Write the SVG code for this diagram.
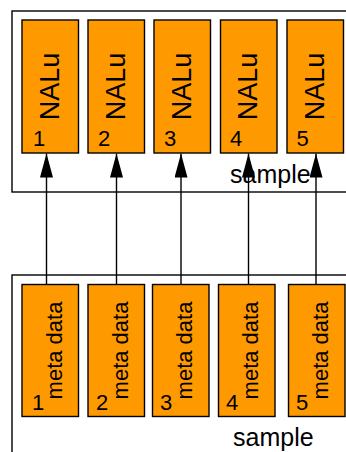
<svg xmlns="http://www.w3.org/2000/svg" width="346" height="452" viewBox="0 0 346 452">
<defs>
<style>
.cont{fill:none;stroke:#000;stroke-width:1.4}
.box{fill:#FF9900;stroke:#000;stroke-width:1.4}
.lbl{font-family:"Liberation Sans",Arial,sans-serif;fill:#000}
.nalu{font-size:27px}
.meta{font-size:22px}
.num{font-size:22px}
.cap{font-size:25px}
.conn{stroke:#000;stroke-width:1.4;fill:none}
</style>
<marker id="ah" viewBox="0 0 24 13" refX="24" refY="6.5" markerWidth="24" markerHeight="13" markerUnits="userSpaceOnUse" orient="auto">
<path d="M0,0 L24,6.5 L0,13 Z" fill="#000"/>
</marker>
</defs>
<rect width="346" height="452" fill="#fff"/>
<g id="top-sample">
<rect class="cont" x="12" y="11" width="360" height="181"/>
<text class="lbl cap" x="230" y="183">sample</text>
</g>
<g id="bottom-sample">
<rect class="cont" x="12" y="275" width="360" height="200"/>
<text class="lbl cap" x="233" y="446">sample</text>
</g>
<g id="nalu1"><rect class="box" x="22" y="20" width="56.5" height="133"/><text class="lbl nalu" transform="translate(58.5,86.5) rotate(-90)" text-anchor="middle">NALu</text><text class="lbl num" x="33" y="146">1</text></g>
<g id="nalu2"><rect class="box" x="88" y="20" width="56.5" height="133"/><text class="lbl nalu" transform="translate(124.5,86.5) rotate(-90)" text-anchor="middle">NALu</text><text class="lbl num" x="98" y="146">2</text></g>
<g id="nalu3"><rect class="box" x="154" y="20" width="56.5" height="133"/><text class="lbl nalu" transform="translate(190.5,86.5) rotate(-90)" text-anchor="middle">NALu</text><text class="lbl num" x="164" y="146">3</text></g>
<g id="nalu4"><rect class="box" x="220.5" y="20" width="56.5" height="133"/><text class="lbl nalu" transform="translate(257,86.5) rotate(-90)" text-anchor="middle">NALu</text><text class="lbl num" x="230" y="146">4</text></g>
<g id="nalu5"><rect class="box" x="287" y="20" width="56.5" height="133"/><text class="lbl nalu" transform="translate(323.5,86.5) rotate(-90)" text-anchor="middle">NALu</text><text class="lbl num" x="296.5" y="146">5</text></g>
<g id="meta1"><rect class="box" x="22" y="284.5" width="56.5" height="132"/><text class="lbl meta" transform="translate(61.5,350.5) rotate(-90)" text-anchor="middle">meta data</text><text class="lbl num" x="32" y="410">1</text></g>
<g id="meta2"><rect class="box" x="88" y="284.5" width="56.5" height="132"/><text class="lbl meta" transform="translate(127.5,350.5) rotate(-90)" text-anchor="middle">meta data</text><text class="lbl num" x="96" y="410">2</text></g>
<g id="meta3"><rect class="box" x="152.5" y="284.5" width="56.5" height="132"/><text class="lbl meta" transform="translate(192,350.5) rotate(-90)" text-anchor="middle">meta data</text><text class="lbl num" x="160" y="410">3</text></g>
<g id="meta4"><rect class="box" x="218.5" y="284.5" width="56.5" height="132"/><text class="lbl meta" transform="translate(258,350.5) rotate(-90)" text-anchor="middle">meta data</text><text class="lbl num" x="226" y="410">4</text></g>
<g id="meta5"><rect class="box" x="288.5" y="284.5" width="56.5" height="132"/><text class="lbl meta" transform="translate(328,350.5) rotate(-90)" text-anchor="middle">meta data</text><text class="lbl num" x="296" y="410">5</text></g>
<g id="connectors">
<line class="conn" x1="46.5" y1="284.5" x2="46.5" y2="153.5" marker-end="url(#ah)"/>
<line class="conn" x1="116.5" y1="284.5" x2="116.5" y2="153.5" marker-end="url(#ah)"/>
<line class="conn" x1="181" y1="284.5" x2="181" y2="153.5" marker-end="url(#ah)"/>
<line class="conn" x1="248.5" y1="284.5" x2="248.5" y2="153.5" marker-end="url(#ah)"/>
<line class="conn" x1="316" y1="284.5" x2="316" y2="153.5" marker-end="url(#ah)"/>
</g>
</svg>
